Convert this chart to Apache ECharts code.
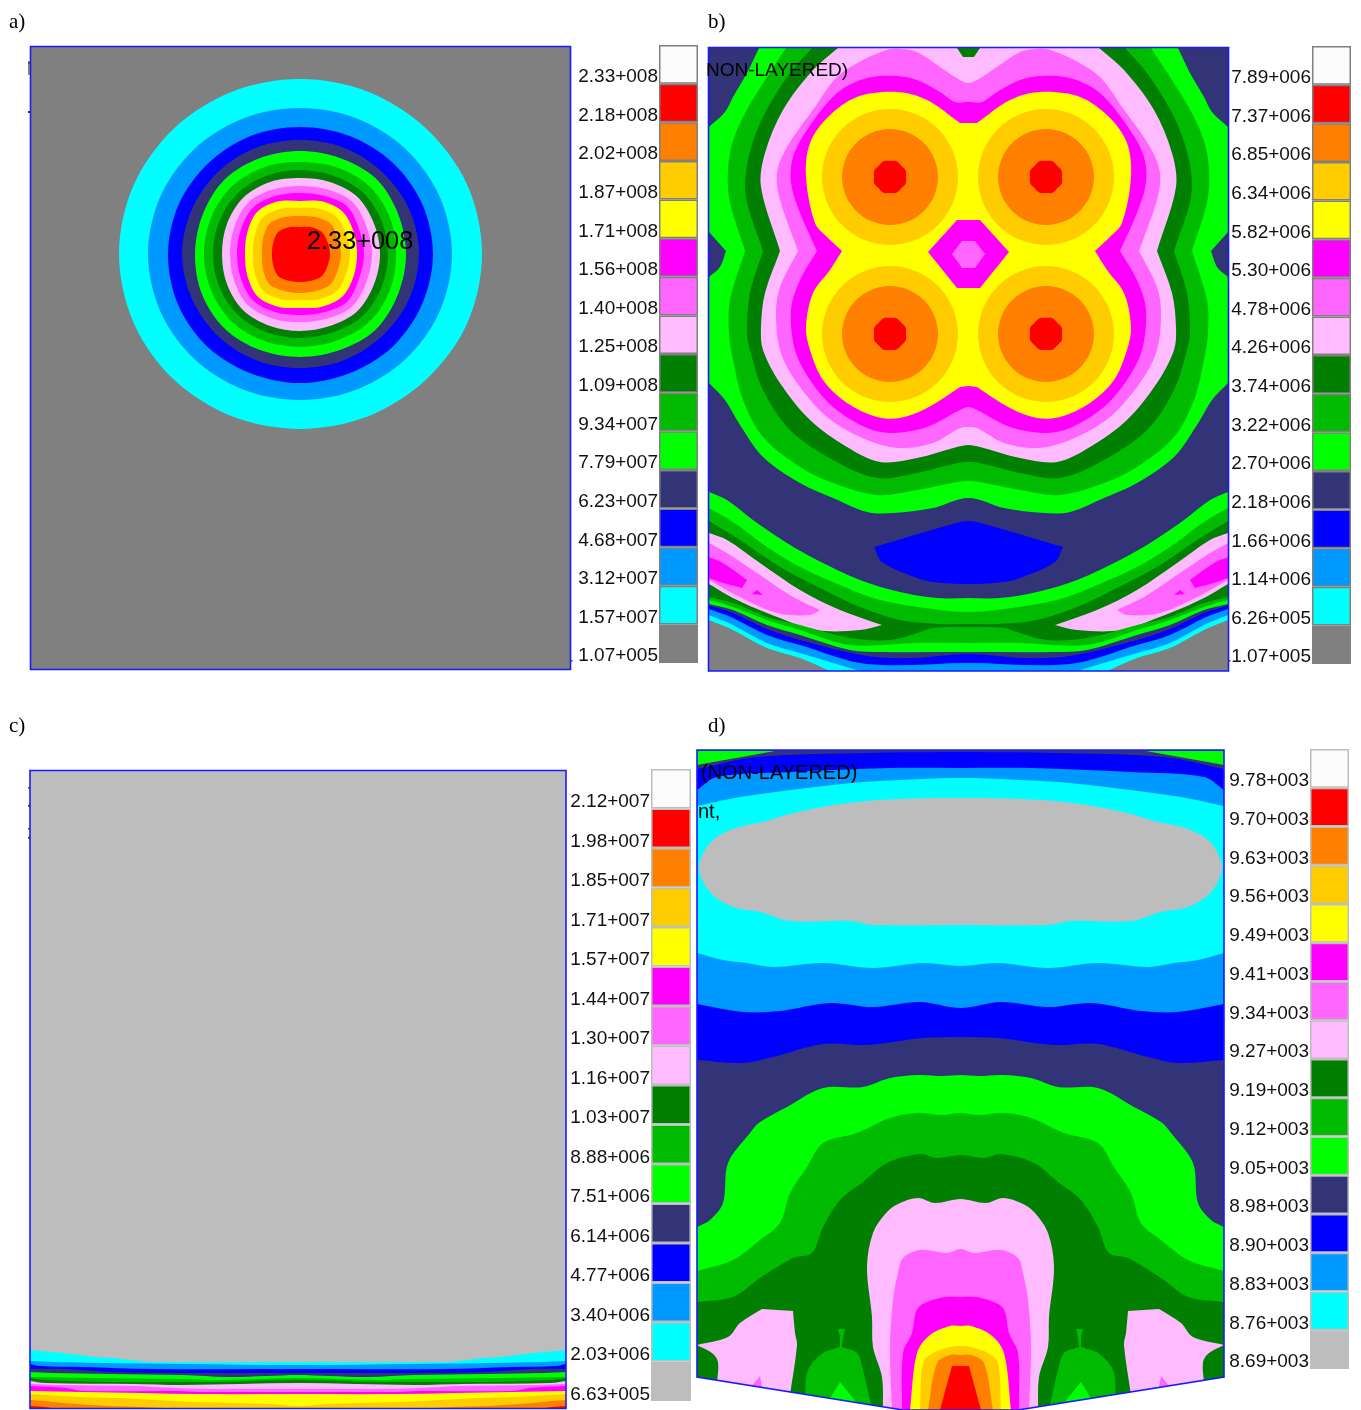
<!DOCTYPE html>
<html><head><meta charset="utf-8">
<style>html,body{margin:0;padding:0;background:#fff}#c{width:1361px;height:1410px}</style>
<script src="https://cdn.jsdelivr.net/npm/echarts@6/dist/echarts.min.js"></script>
</head><body><div id="c"></div>
<script>
// ---------- legend tick labels (top to bottom) ----------
const ticksA = ['2.33+008','2.18+008','2.02+008','1.87+008','1.71+008','1.56+008','1.40+008','1.25+008','1.09+008','9.34+007','7.79+007','6.23+007','4.68+007','3.12+007','1.57+007','1.07+005'];
const ticksB = ['7.89+006','7.37+006','6.85+006','6.34+006','5.82+006','5.30+006','4.78+006','4.26+006','3.74+006','3.22+006','2.70+006','2.18+006','1.66+006','1.14+006','6.26+005','1.07+005'];
const ticksC = ['2.12+007','1.98+007','1.85+007','1.71+007','1.57+007','1.44+007','1.30+007','1.16+007','1.03+007','8.88+006','7.51+006','6.14+006','4.77+006','3.40+006','2.03+006','6.63+005'];
const ticksD = ['9.78+003','9.70+003','9.63+003','9.56+003','9.49+003','9.41+003','9.34+003','9.27+003','9.19+003','9.12+003','9.05+003','8.98+003','8.90+003','8.83+003','8.76+003','8.69+003'];

// ---------- contour colours ----------
const WHITE='#fcfcfc',RED='#ff0000',ORANGE='#ff7f00',GOLD='#ffcc00',YELLOW='#ffff00',MAGENTA='#ff00ff',LILAC='#ff66ff',PINK='#ffbbff',
      DKGREEN='#007f00',GREEN='#00bb00',LIME='#00ff00',NAVY='#333377',BLUE='#0000ff',SKY='#0099ff',CYAN='#00ffff',GREY='#808080',SILVER='#bdbdbd';
const bandColoursDark  = [WHITE,RED,ORANGE,GOLD,YELLOW,MAGENTA,LILAC,PINK,DKGREEN,GREEN,LIME,NAVY,BLUE,SKY,CYAN,GREY];
const bandColoursLight = [WHITE,RED,ORANGE,GOLD,YELLOW,MAGENTA,LILAC,PINK,DKGREEN,GREEN,LIME,NAVY,BLUE,SKY,CYAN,SILVER];

// ---------- panel a: contour radii in 16 directions about the peak ----------
const aPeak = [300,254];
const aCyan   = [182,181,178,176,175,176,178,180,181,180,178,176,175,176,178,181];
const aSky    = [152,151,149,147,146,147,149,151,152,151,149,147,146,147,149,151];
const aBlue   = [133,132,131,129,129,129,131,132,132,131,129,128,127,128,130,132];
const aNavy   = [119,118,116,115,114,115,116,117,118,117,116,115,114,115,116,118];
const aLime   = [106,106,107,104,103,104,106,106,105,105,106,104,103,104,107,106];
const aGreen  = [96,97,97,94,93,94,96,96,96,96,96,94,92,94,97,97];
const aDark   = [88,88,88,85,84,85,87,87,87,87,87,85,84,85,88,88];
const aPink   = [80,80,81,78,77,78,80,79,78,79,80,78,76,78,81,80];
const aLilac  = [72,72,74,70,68,70,73,71,70,71,73,70,68,70,74,72];
const aMagenta= [64,64,67,63,61,63,66,64,63,64,66,63,61,63,67,64];
const aYellow = [57,58,60,57,54,57,60,57,55,57,60,57,53,57,60,58];
const aGold   = [50,50,52,49,46,49,52,49,47,49,52,49,46,49,52,50];
const aOrange = [41,41,43,40,39,40,43,40,38,40,43,40,38,40,43,41];
const aRed    = [30,30,31,29,28,29,31,29,28,29,31,29,27,29,31,30];

// ---------- panel b: left half contours (third element marks a sharp corner) ----------
const bLime  = [[968.5,48,1],[759,48,1],[747,73],[733,97],[725,112],[709,127,1],[709,232,1],[726,251,1],[720,267],[709,277,1],[709,383,1],[725,400],[740,425],[763,457],[800,483],[833,498],[867,512],[893,513],[933,508],[968.5,498]];
const bGreen = [[968.5,48,1],[786,48,1],[767,77],[743,117],[730,153],[729,197],[745,251,1],[730,300],[729,333],[733,360],[743,400],[763,437],[800,467],[833,483],[877,495],[917,490],[957,482],[968.5,481]];
const bDark  = [[968.5,48,1],[812,48,1],[790,73],[763,117],[748,160],[746,197],[763,251,1],[750,293],[747,333],[750,350],[763,390],[790,430],[833,460],[877,478],[917,473],[957,463],[968.5,462]];
const bPink  = [[968.5,48,1],[838,48,1],[813,70],[783,110],[765,153],[761,187],[780,251,1],[765,293],[761,327],[763,350],[780,383],[810,420],[847,447],[880,462],[917,458],[957,447],[968.5,445]];
const bLilac = [[968.5,83],[960,80],[940,67],[917,52],[900,49],[887,50],[863,60],[837,77],[815,107],[787,147],[777,173],[780,200],[798,251,1],[780,287],[776,313],[780,350],[795,380],[827,417],[867,440],[900,448],[933,443],[960,428],[968.5,427]];
const bMagenta=[[968.5,102],[955,102],[940,92],[917,80],[897,76],[867,78],[837,93],[807,130],[793,157],[791,183],[800,213],[817,251,1],[800,280],[791,310],[795,350],[810,380],[833,407],[867,428],[893,433],[927,427],[960,410],[968.5,407]];
const bYellow= [[968.5,123,1],[960,123,1],[927,100],[897,92],[857,97],[828,117],[810,143],[806,177],[815,223],[827,237],[842,251,1],[830,270],[813,293],[806,327],[810,350],[823,380],[847,403],[877,417],[900,418],[927,408],[960,387,1],[968.5,386,1]];
const bPeaks = [[890,177],[1046,177],[890,334],[1046,334]];
const bGoldR  = [68,68,68,68,68,68,68,68,68,68,68,68,68,68,68,68];
const bOrangeR= [48,48,48,48,48,48,48,48,48,48,48,48,48,48,48,48];
const bRedR   = [16,17,16,17,16,17,16,17,16,17,16,17,16,17,16,17];
const bCoreMagenta = [[968.5,220,1],[957,220,1],[928,252,1],[957,288,1],[968.5,288,1]];
const bCoreLilac   = [[968.5,241,1],[962,241,1],[952,254,1],[962,268,1],[968.5,268,1]];
const bNotch = [[968.5,57,1],[963,57,1],[957,48,1],[968.5,48,1]];
const bPool  = [[968.5,521,1],[960,522],[874,547,1],[882,562],[917,578],[933,582],[968.5,584]];
const bArcLime  = [[968.5,598],[937,598],[900,592],[860,580],[817,560],[787,543],[753,520],[727,500],[709,492,1],[709,671,1],[968.5,671,1]];
const bArcGreen = [[968.5,612],[940,610],[880,600],[840,585],[800,567],[767,547],[733,522],[709,508,1],[709,671,1],[968.5,671,1]];
const bArcDark  = [[968.5,624],[940,624],[900,620],[860,607],[820,588],[780,567],[740,540],[709,521,1],[709,671,1],[968.5,671,1]];
const bLensPink = [[709,533,1],[727,540],[760,563],[800,590],[840,610],[882,625,1],[860,630],[817,630],[767,613],[733,598],[709,584,1]];
const bLensLilac= [[709,543,1],[727,553],[757,573],[793,597],[820,610,1],[810,615],[777,613],[740,597],[709,580,1]];
const bLensMag  = [[709,557,1],[723,563],[747,580,1],[742,588,1],[723,583],[709,578,1]];
const bSpeck    = [[752,594,1],[757,590,1],[763,595,1]];
const bUnderGreen=[[968.5,627],[933,628],[917,633],[890,640],[850,638],[800,625],[767,617],[733,603],[709,597,1],[709,671,1],[968.5,671,1]];
const bUnderLime =[[968.5,643],[917,643],[850,645],[800,630],[767,620],[733,607],[709,600,1],[709,671,1],[968.5,671,1]];
const bUnderNavy =[[968.5,652],[883,652],[850,650],[800,635],[767,625],[733,610],[709,604,1],[709,671,1],[968.5,671,1]];
const bUnderBlue =[[968.5,654],[913,658],[867,656],[800,640],[767,629],[733,613],[709,605.5,1],[709,671,1],[968.5,671,1]];
const bUnderSky  =[[968.5,663],[867,664],[800,645],[767,635],[733,618],[709,609,1],[709,671,1],[968.5,671,1]];
const bCornerCyan=[[709,615,1],[733,625],[767,643],[800,653],[860,671,1],[709,671,1]];
const bCornerGrey=[[709,620,1],[733,630],[767,648],[800,658],[830,671,1],[709,671,1]];

// ---------- panel c: left half of each level's upper edge ----------
const cCyan   = [[298,1362],[150,1362],[130,1360],[113,1358],[95,1357],[80,1355],[63,1353],[50,1352],[30,1350,1]];
const cSky    = [[298,1365],[183,1364],[100,1363],[56,1362],[30,1361,1]];
const cBlue   = [[298,1369],[153,1369],[83,1367],[40,1366],[30,1364,1]];
const cNavy   = [[298,1373],[227,1373],[183,1373],[113,1372],[65,1369],[30,1369,1]];
const cLime   = [[298,1375],[267,1376],[227,1377],[183,1375],[110,1374],[52,1373],[30,1372,1]];
const cGreen  = [[298,1378],[220,1380],[183,1379],[92,1378],[30,1377,1]];
const cDark   = [[298,1380],[220,1382],[187,1382],[110,1382],[45,1380],[30,1378,1]];
const cPink   = [[298,1383],[183,1385],[133,1384],[45,1383],[30,1381,1]];
const cLilac  = [[298,1389],[200,1389],[177,1388],[133,1386],[57,1385],[30,1384,1]];
const cMagenta= [[298,1392],[200,1392],[177,1391],[83,1391],[67,1388],[30,1386,1]];
const cYellow = [[298,1394],[200,1394],[83,1392],[30,1391,1]];
const cGold   = [[298,1406],[270,1404],[193,1402],[120,1398],[80,1397],[30,1394,1]];
const cOrange = [[183,1409,1],[142,1407],[110,1406],[63,1403],[45,1401],[30,1400,1]];
const cRed    = [[57,1409,1],[45,1407],[30,1406,1]];

// ---------- panel d: left half contours ----------
const dCornerLime = [[697,751,1],[775,751,1],[697,765,1]];
const dBlue = [[960.5,752],[948,752],[867,753],[757,757],[697,769,1],[697,1060,1],[743,1063],[773,1057],[823,1044],[867,1045],[923,1038],[960.5,1037]];
const dSky  = [[960.5,768],[890,768],[790,772],[717,777],[697,790,1],[697,1004,1],[743,1012],[780,1011],[830,1003],[873,1007],[920,1002],[960.5,1008]];
const dCyan = [[960.5,778],[947,778],[863,782],[807,788],[740,797],[697,806,1],[697,953,1],[723,960],[747,963],[773,967],[823,963],[873,968],[923,963],[960.5,966]];
const dSilver=[[960.5,798],[877,800],[823,807],[790,814],[767,821],[733,829],[710,843],[699,868],[710,892],[733,907],[760,912],[790,921],[850,921],[873,925],[960.5,925]];
const dLime = [[960.5,1075],[943,1076],[918,1075],[890,1078],[863,1087],[823,1088],[787,1107],[760,1122],[750,1133],[728,1163],[723,1203],[710,1220],[697,1227,1],[697,1410,1],[960.5,1410,1]];
const dGreen= [[960.5,1113],[943,1115],[917,1113],[890,1118],[857,1133],[823,1143],[807,1167],[790,1193],[780,1223],[760,1240],[733,1260],[697,1271,1],[697,1410,1],[960.5,1410,1]];
const dDark = [[960.5,1155],[937,1158],[920,1154],[887,1163],[863,1182],[840,1200],[823,1227],[812,1253],[793,1258],[760,1278],[733,1297],[697,1302,1],[697,1410,1],[960.5,1410,1]];
const dSidePink = [[697,1345,1],[728,1337],[740,1323],[762,1309,1],[793,1311,1],[795,1333],[797,1345],[790,1395,1],[717,1383,1],[718,1362],[712,1353]];
const dSideLilac= [[750,1388,1],[760,1376,1],[763,1392,1]];
const dTentGreen= [[805,1398,1],[808,1370],[823,1353],[840,1347,1],[840,1337,1],[838,1329,1],[845,1329,1],[843,1338,1],[842,1347,1],[857,1353],[863,1370],[871,1405,1]];
const dTentLime = [[829,1400,1],[840,1382,1],[857,1403,1]];
const dPink = [[960.5,1199],[935,1203],[918,1198],[900,1203],[887,1212],[873,1233],[867,1267],[872,1317],[873,1347],[882,1377],[883,1410,1],[960.5,1410,1]];
const dLilac= [[960.5,1249],[947,1253],[920,1250],[903,1258],[898,1273],[893,1300],[890,1347],[892,1410,1],[960.5,1410,1]];
const dMagenta=[[960.5,1297],[940,1298],[918,1308],[912,1333],[903,1353],[902,1410,1],[960.5,1410,1]];
const dYellow=[[960.5,1326],[950,1326],[930,1335],[917,1353],[910,1410,1],[960.5,1410,1]];
const dGold = [[960.5,1346],[950,1347],[933,1353],[923,1363],[920,1410,1],[960.5,1410,1]];
const dOrange=[[960.5,1355],[950,1355],[937,1363],[928,1410,1],[960.5,1410,1]];
const dRed  = [[960.5,1366,1],[952,1366,1],[940,1410,1],[960.5,1410,1]];
const dBelow= [[697,1377,1],[903,1410,1],[697,1410,1]];
const dOutline=[[697,750],[1224,750],[1224,1377],[1018,1410],[903,1410],[697,1377]];

// ---------- annotations ----------
const panelLetters = ['a)','b)','c)','d)'];
const maxLabel = '2.33+008';
const solverNoteB = 'NON-LAYERED)';
const solverNoteD = '(NON-LAYERED)';
const solverNoteD2 = 'nt,';

// ---------- helpers ----------
const SMOOTH = 0.33;
function mirror(pts, cx){ return pts.map(p=>[2*cx-p[0],p[1],p[2]]); }
function full(half, cx){ // half runs along the left side; the right side is its reflection
  const right = half.filter(p=>p[0]!==cx).map(p=>[2*cx-p[0],p[1],p[2]]).reverse();
  return half.concat(right);
}
function ring(c, radii){
  return radii.map((r,i)=>{const t=i*Math.PI/8;return [c[0]+r*Math.cos(t),c[1]+r*Math.sin(t)];});
}
function expand(pts){ const o=[]; pts.forEach(p=>{o.push(p); if(p[2]) o.push(p);}); return o; }
function rect(x0,y0,x1,y1){ return [[x0,y0,1],[x1,y0,1],[x1,y1,1],[x0,y1,1]]; }

function contourSeries(idx, layers){
  return {
    type:'custom', xAxisIndex:idx, yAxisIndex:idx, coordinateSystem:'cartesian2d', silent:true, clip:true, z:2,
    data:layers.map((l,i)=>[i]),
    renderItem:function(params,api){
      const l=layers[params.dataIndex];
      const pts=expand(l.pts).map(p=>api.coord([p[0],p[1]]));
      if(l.stroke) return {type:'polygon',shape:{points:pts},style:{fill:'none',stroke:l.stroke,lineWidth:1.6}};
      return {type:'polygon',shape:{points:pts,smooth:SMOOTH},style:{fill:l.fill}};
    }
  };
}
const L=(fill,pts)=>({fill,pts});

// panel a layers
const layersA=[L(GREY,rect(30,46,571,670))].concat(
  [[CYAN,aCyan],[SKY,aSky],[BLUE,aBlue],[NAVY,aNavy],[LIME,aLime],[GREEN,aGreen],[DKGREEN,aDark],[PINK,aPink],[LILAC,aLilac],[MAGENTA,aMagenta],[YELLOW,aYellow],[GOLD,aGold],[ORANGE,aOrange],[RED,aRed]]
  .map(e=>L(e[0],ring(aPeak,e[1]))));

// panel b layers
const CB=968.5;
const layersB=[L(NAVY,rect(708,47,1229,672))];
[[LIME,bLime],[GREEN,bGreen],[DKGREEN,bDark],[PINK,bPink],[LILAC,bLilac],[MAGENTA,bMagenta],[YELLOW,bYellow]]
  .forEach(e=>layersB.push(L(e[0],full(e[1],CB))));
[[GOLD,bGoldR],[ORANGE,bOrangeR],[RED,bRedR]].forEach(e=>bPeaks.forEach(c=>layersB.push(L(e[0],ring(c,e[1])))));
[[MAGENTA,bCoreMagenta],[LILAC,bCoreLilac],[DKGREEN,bNotch],[BLUE,bPool],[LIME,bArcLime],[GREEN,bArcGreen],[DKGREEN,bArcDark]]
  .forEach(e=>layersB.push(L(e[0],full(e[1],CB))));
[[PINK,bLensPink],[LILAC,bLensLilac],[MAGENTA,bLensMag],[MAGENTA,bSpeck]].forEach(e=>{layersB.push(L(e[0],e[1]));layersB.push(L(e[0],mirror(e[1],CB)));});
[[GREEN,bUnderGreen],[LIME,bUnderLime],[NAVY,bUnderNavy],[BLUE,bUnderBlue],[SKY,bUnderSky]].forEach(e=>layersB.push(L(e[0],full(e[1],CB))));
[[CYAN,bCornerCyan],[GREY,bCornerGrey]].forEach(e=>{layersB.push(L(e[0],e[1]));layersB.push(L(e[0],mirror(e[1],CB)));});

// panel c layers
const CC=298, CBOT=1410;
const layersC=[L(SILVER,rect(29,770,567,1410))];
[[CYAN,cCyan],[SKY,cSky],[BLUE,cBlue],[NAVY,cNavy],[LIME,cLime],[GREEN,cGreen],[DKGREEN,cDark],[PINK,cPink],[LILAC,cLilac],[MAGENTA,cMagenta],[YELLOW,cYellow],[GOLD,cGold]]
  .forEach(e=>layersC.push(L(e[0],full(e[1].concat([[30,CBOT,1],[CC,CBOT,1]]),CC))));
[[ORANGE,cOrange],[RED,cRed]].forEach(e=>{const p=e[1].concat([[30,CBOT,1],[e[1][0][0],CBOT,1]]);layersC.push(L(e[0],p));layersC.push(L(e[0],mirror(p,CC)));});

// panel d layers
const CD=960.5;
const layersD=[L(NAVY,rect(697,750,1224,1410))];
layersD.push(L(LIME,dCornerLime),L(LIME,mirror(dCornerLime,CD)));
[[BLUE,dBlue],[SKY,dSky],[CYAN,dCyan],[SILVER,dSilver],[LIME,dLime],[GREEN,dGreen],[DKGREEN,dDark]].forEach(e=>layersD.push(L(e[0],full(e[1],CD))));
[[PINK,dSidePink],[LILAC,dSideLilac],[GREEN,dTentGreen],[LIME,dTentLime]].forEach(e=>{layersD.push(L(e[0],e[1]));layersD.push(L(e[0],mirror(e[1],CD)));});
[[PINK,dPink],[LILAC,dLilac],[MAGENTA,dMagenta],[YELLOW,dYellow],[GOLD,dGold],[ORANGE,dOrange],[RED,dRed]].forEach(e=>layersD.push(L(e[0],full(e[1],CD))));
layersD.push(L('#ffffff',dBelow),L('#ffffff',mirror(dBelow,CD)));
layersD.push({stroke:'#1a1aff',pts:dOutline});

// ---------- grids: axis ranges are the field extents of each panel ----------
const panels=[
  {l:30.5,r:570.5,t:46.5,b:669.5,border:true},
  {l:708.5,r:1228.5,t:47.5,b:671,border:true},
  {l:30,r:566,t:770.5,b:1408.5,border:true},
  {l:694,r:1227,t:747,b:1410,border:false}
];
const keys=[
  {l:659,t:45,w:39,h:618,pad:3,ticks:ticksA,colours:bandColoursDark,edge:'#808080'},
  {l:1312,t:46,w:39,h:618,pad:3,ticks:ticksB,colours:bandColoursDark,edge:'#808080'},
  {l:651,t:769,w:40,h:632,pad:4,ticks:ticksC,colours:bandColoursLight,edge:'#bdbdbd'},
  {l:1310,t:749,w:39,h:620,pad:3,ticks:ticksD,colours:bandColoursLight,edge:'#bdbdbd'}
];
const grid=[],xAxis=[],yAxis=[],series=[];
panels.forEach((p,i)=>{
  grid.push({left:p.l,top:p.t,width:p.r-p.l,height:p.b-p.t,show:p.border,borderColor:'#1a1aff',borderWidth:p.border?1.6:0,backgroundColor:'transparent',z:20});
  xAxis.push({type:'value',gridIndex:i,min:p.l,max:p.r,show:false});
  yAxis.push({type:'value',gridIndex:i,min:p.t,max:p.b,inverse:true,show:false});
});
[layersA,layersB,layersC,layersD].forEach((ls,i)=>series.push(contourSeries(i,ls)));
keys.forEach((k,i)=>{
  const g=i+4;
  grid.push({left:k.l,top:k.t,width:k.w,height:k.h});
  xAxis.push({type:'value',gridIndex:g,min:0,max:1,show:false});
  yAxis.push({type:'category',gridIndex:g,inverse:true,data:k.ticks,
    axisLine:{show:false},axisTick:{show:false},splitLine:{show:false},
    axisLabel:{interval:0,margin:1,color:'#111',fontFamily:'Liberation Sans',fontSize:19,verticalAlign:'top',padding:[k.pad,0,0,0]}});
  series.push({type:'bar',xAxisIndex:g,yAxisIndex:g,silent:true,barWidth:'100%',
    data:k.ticks.map((t,j)=>({value:1,itemStyle:{color:k.colours[j],borderColor:k.edge,borderWidth:1.5}}))});
});

function txt(x,y,s,size,fam,z){return {type:'text',left:x,top:y,z:z||100,silent:true,style:{text:s,fill:'#000',font:size+'px "'+fam+'"',textVerticalAlign:'top'}};}
function mark(x,y,w,h,c){return {type:'rect',z:100,silent:true,shape:{x,y,width:w,height:h},style:{fill:c}};}
const graphic=[
  txt(9,12,panelLetters[0],21,'Liberation Serif'),
  txt(708,12,panelLetters[1],21,'Liberation Serif'),
  txt(9,716,panelLetters[2],21,'Liberation Serif'),
  txt(708,716,panelLetters[3],21,'Liberation Serif'),
  txt(307,230,maxLabel,25.3,'Liberation Sans'),
  txt(706,61,solverNoteB,19,'Liberation Sans'),
  txt(701,763,solverNoteD,20,'Liberation Sans'),
  txt(698,802,solverNoteD2,20,'Liberation Sans'),
  // stray marks left of the frames, and the dots before the lowest tick labels
  mark(28,61,2,14,'#808080'),mark(28,62,2,2,'#555'),mark(28,111,2,2,'#333'),
  mark(28,787,2,1.5,'#444'),mark(28,805,2,1.5,'#222'),mark(28,828,2,1.5,'#444'),mark(28,837,2,1.5,'#222'),
  mark(571,660,1.5,1.5,'#444'),mark(1229,660,1.5,1.5,'#444')
];

const chart=echarts.init(document.getElementById('c'),null,{renderer:'canvas'});
chart.setOption({animation:false,backgroundColor:'#fff',grid,xAxis,yAxis,series,graphic:{elements:graphic}});
</script></body></html>
